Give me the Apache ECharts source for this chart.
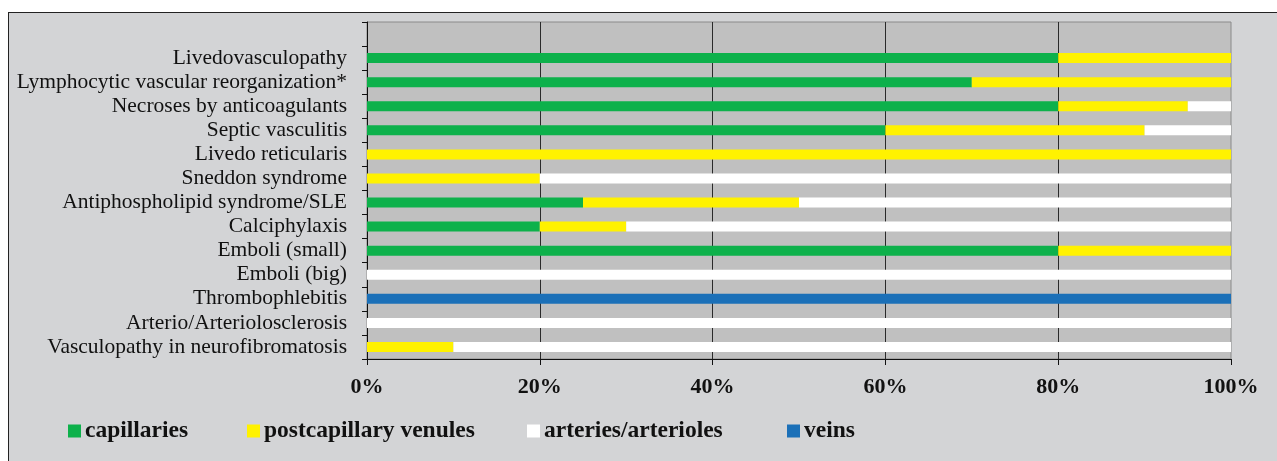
<!DOCTYPE html>
<html>
<head>
<meta charset="utf-8">
<script src="https://cdn.jsdelivr.net/npm/echarts@6/dist/echarts.min.js"></script>
<style>
  html, body { margin: 0; padding: 0; background: #ffffff; overflow: hidden; }
  #frame { position: absolute; left: 8px; top: 12px; width: 1290px; height: 470px;
           background: #d3d4d6; border-left: 1.5px solid #222; border-top: 1.5px solid #222; }
  #chart { position: absolute; left: 0; top: 0; width: 1277px; height: 461px; }
</style>
</head>
<body>
<div id="frame"></div>
<div id="chart"></div>
<script>
// Categories listed top to bottom (first entry is the empty top slot of the original chart)
const categories = [
  '',
  'Livedovasculopathy',
  'Lymphocytic vascular reorganization*',
  'Necroses by anticoagulants',
  'Septic vasculitis',
  'Livedo reticularis',
  'Sneddon syndrome',
  'Antiphospholipid syndrome/SLE',
  'Calciphylaxis',
  'Emboli (small)',
  'Emboli (big)',
  'Thrombophlebitis',
  'Arterio/Arteriolosclerosis',
  'Vasculopathy in neurofibromatosis'
];
const seriesNames = ['capillaries', 'postcapillary venules', 'arteries/arterioles', 'veins'];
const capillaries = [null, 80, 70, 80, 60, 0, 0, 25, 20, 80, 0, 0, 0, 0];
const postcapillaryVenules = [null, 20, 30, 15, 30, 100, 20, 25, 10, 20, 0, 0, 0, 10];
const arteriesArterioles = [null, 0, 0, 5, 10, 0, 80, 50, 70, 0, 100, 0, 100, 90];
const veins = [null, 0, 0, 0, 0, 0, 0, 0, 0, 0, 0, 100, 0, 0];
const xTicks = [0, 20, 40, 60, 80, 100];

const colors = ['#0db14b', '#fff200', '#ffffff', '#1b70b8'];
const values = [capillaries, postcapillaryVenules, arteriesArterioles, veins];
const legendLefts = [68, 247, 527, 787];

const chart = echarts.init(document.getElementById('chart'), null, { renderer: 'canvas' });
const serif = '"Liberation Serif", "Times New Roman", serif';

chart.setOption({
  animation: false,
  backgroundColor: 'transparent',
  color: colors,
  grid: {
    left: 367, right: 46, top: 22, bottom: 102,
    show: true, backgroundColor: '#c0c0c0', borderColor: '#8a8a8a', borderWidth: 1
  },
  legend: seriesNames.map((name, i) => ({
    left: legendLefts[i], top: 419, padding: 0,
    itemWidth: 13, itemHeight: 13,
    icon: 'rect',
    data: [name],
    textStyle: { fontFamily: serif, fontWeight: 'bold', fontSize: 23.5, color: '#111', padding: [0, 0, 0, -1] }
  })),
  xAxis: {
    type: 'value', min: xTicks[0], max: xTicks[xTicks.length - 1], interval: 20,
    axisLine: { show: true, lineStyle: { color: '#111', width: 1 } },
    axisTick: { show: true, length: 6, lineStyle: { color: '#111' } },
    splitLine: { show: true, showMinLine: false, showMaxLine: false, lineStyle: { color: '#2a2a2a', width: 1 } },
    axisLabel: {
      margin: 17,
      fontFamily: serif, fontWeight: 'bold', fontSize: 22, color: '#111',
      formatter: v => v + '%'
    }
  },
  yAxis: {
    type: 'category', inverse: true, data: categories,
    axisLine: { show: true, lineStyle: { color: '#111', width: 1 } },
    axisTick: { show: true, length: 5, interval: 0, lineStyle: { color: '#111' } },
    axisLabel: { interval: 0, margin: 20, fontFamily: serif, fontSize: 21.5, color: '#111' }
  },
  series: seriesNames.map((name, i) => ({
    name, type: 'bar', stack: 'total', barWidth: 10,
    itemStyle: { color: colors[i] },
    data: values[i]
  }))
});
</script>
</body>
</html>
